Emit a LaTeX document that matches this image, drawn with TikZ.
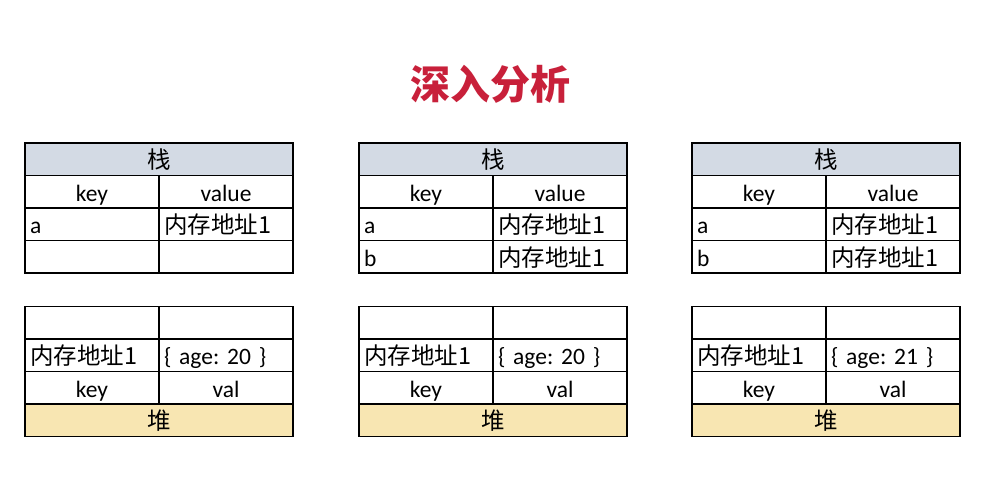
\documentclass[tikz,border=0pt]{standalone}
\usepackage{fontspec}
\setmainfont{Carlito}
\newfontfamily\cjk{Noto Sans CJK SC}
\frenchspacing
\definecolor{titlered}{HTML}{C8203A}
\definecolor{stackfill}{HTML}{D3DAE4}
\definecolor{heapfill}{HTML}{F8E6B2}
\tikzset{
  cell/.style={draw=black, line width=1.4pt, minimum width=134pt, minimum height=32.5pt,
    inner xsep=5pt, inner ysep=0pt, outer sep=0pt, anchor=north west,
    text height=19pt, text depth=0pt,
    font=\fontsize{23.5}{26}\selectfont},
  ccell/.style={cell, text width=124pt, align=center},
  lcell/.style={cell, text width=124pt, align=left},
  wide/.style={cell, minimum width=268pt, text width=258pt, align=center},
}
\begin{document}
\begin{tikzpicture}[x=1pt,y=-1pt]
\useasboundingbox (0,0) rectangle (982,482);
\fill[white] (0,0) rectangle (982,482);
\node[text=titlered, font=\cjk\bfseries\fontsize{40}{44}\selectfont] (title) at (490,84) {深入分析};
\foreach \i/\x/\b/\age in {1/25/{}/20, 2/359/b/20, 3/692/b/21}{
  % stack
  \node[wide, fill=stackfill] (s\i h) at (\x,143) {\cjk 栈};
  \node[ccell] (s\i k) at (\x,175.5) {key};
  \node[ccell] (s\i v) at (\x+134,175.5) {value};
  \node[lcell] (s\i a) at (\x,208) {a};
  \node[lcell] (s\i av) at (\x+134,208) {\cjk 内存地址1};
  \node[lcell] (s\i b) at (\x,240.5) {\b};
  \ifnum\i=1
    \node[lcell] (s\i bv) at (\x+134,240.5) {};
  \else
    \node[lcell] (s\i bv) at (\x+134,240.5) {\cjk 内存地址1};
  \fi
  % heap
  \node[lcell] (h\i e1) at (\x,306.5) {};
  \node[lcell] (h\i e2) at (\x+134,306.5) {};
  \node[lcell] (h\i m) at (\x,339) {\cjk 内存地址1};
  \node[lcell] (h\i o) at (\x+134,339) {\{ age: \age\ \}};
  \node[ccell] (h\i k) at (\x,371.5) {key};
  \node[ccell] (h\i v) at (\x+134,371.5) {val};
  \node[wide, fill=heapfill] (h\i f) at (\x,404) {\cjk 堆};
}
\end{tikzpicture}
\end{document}
